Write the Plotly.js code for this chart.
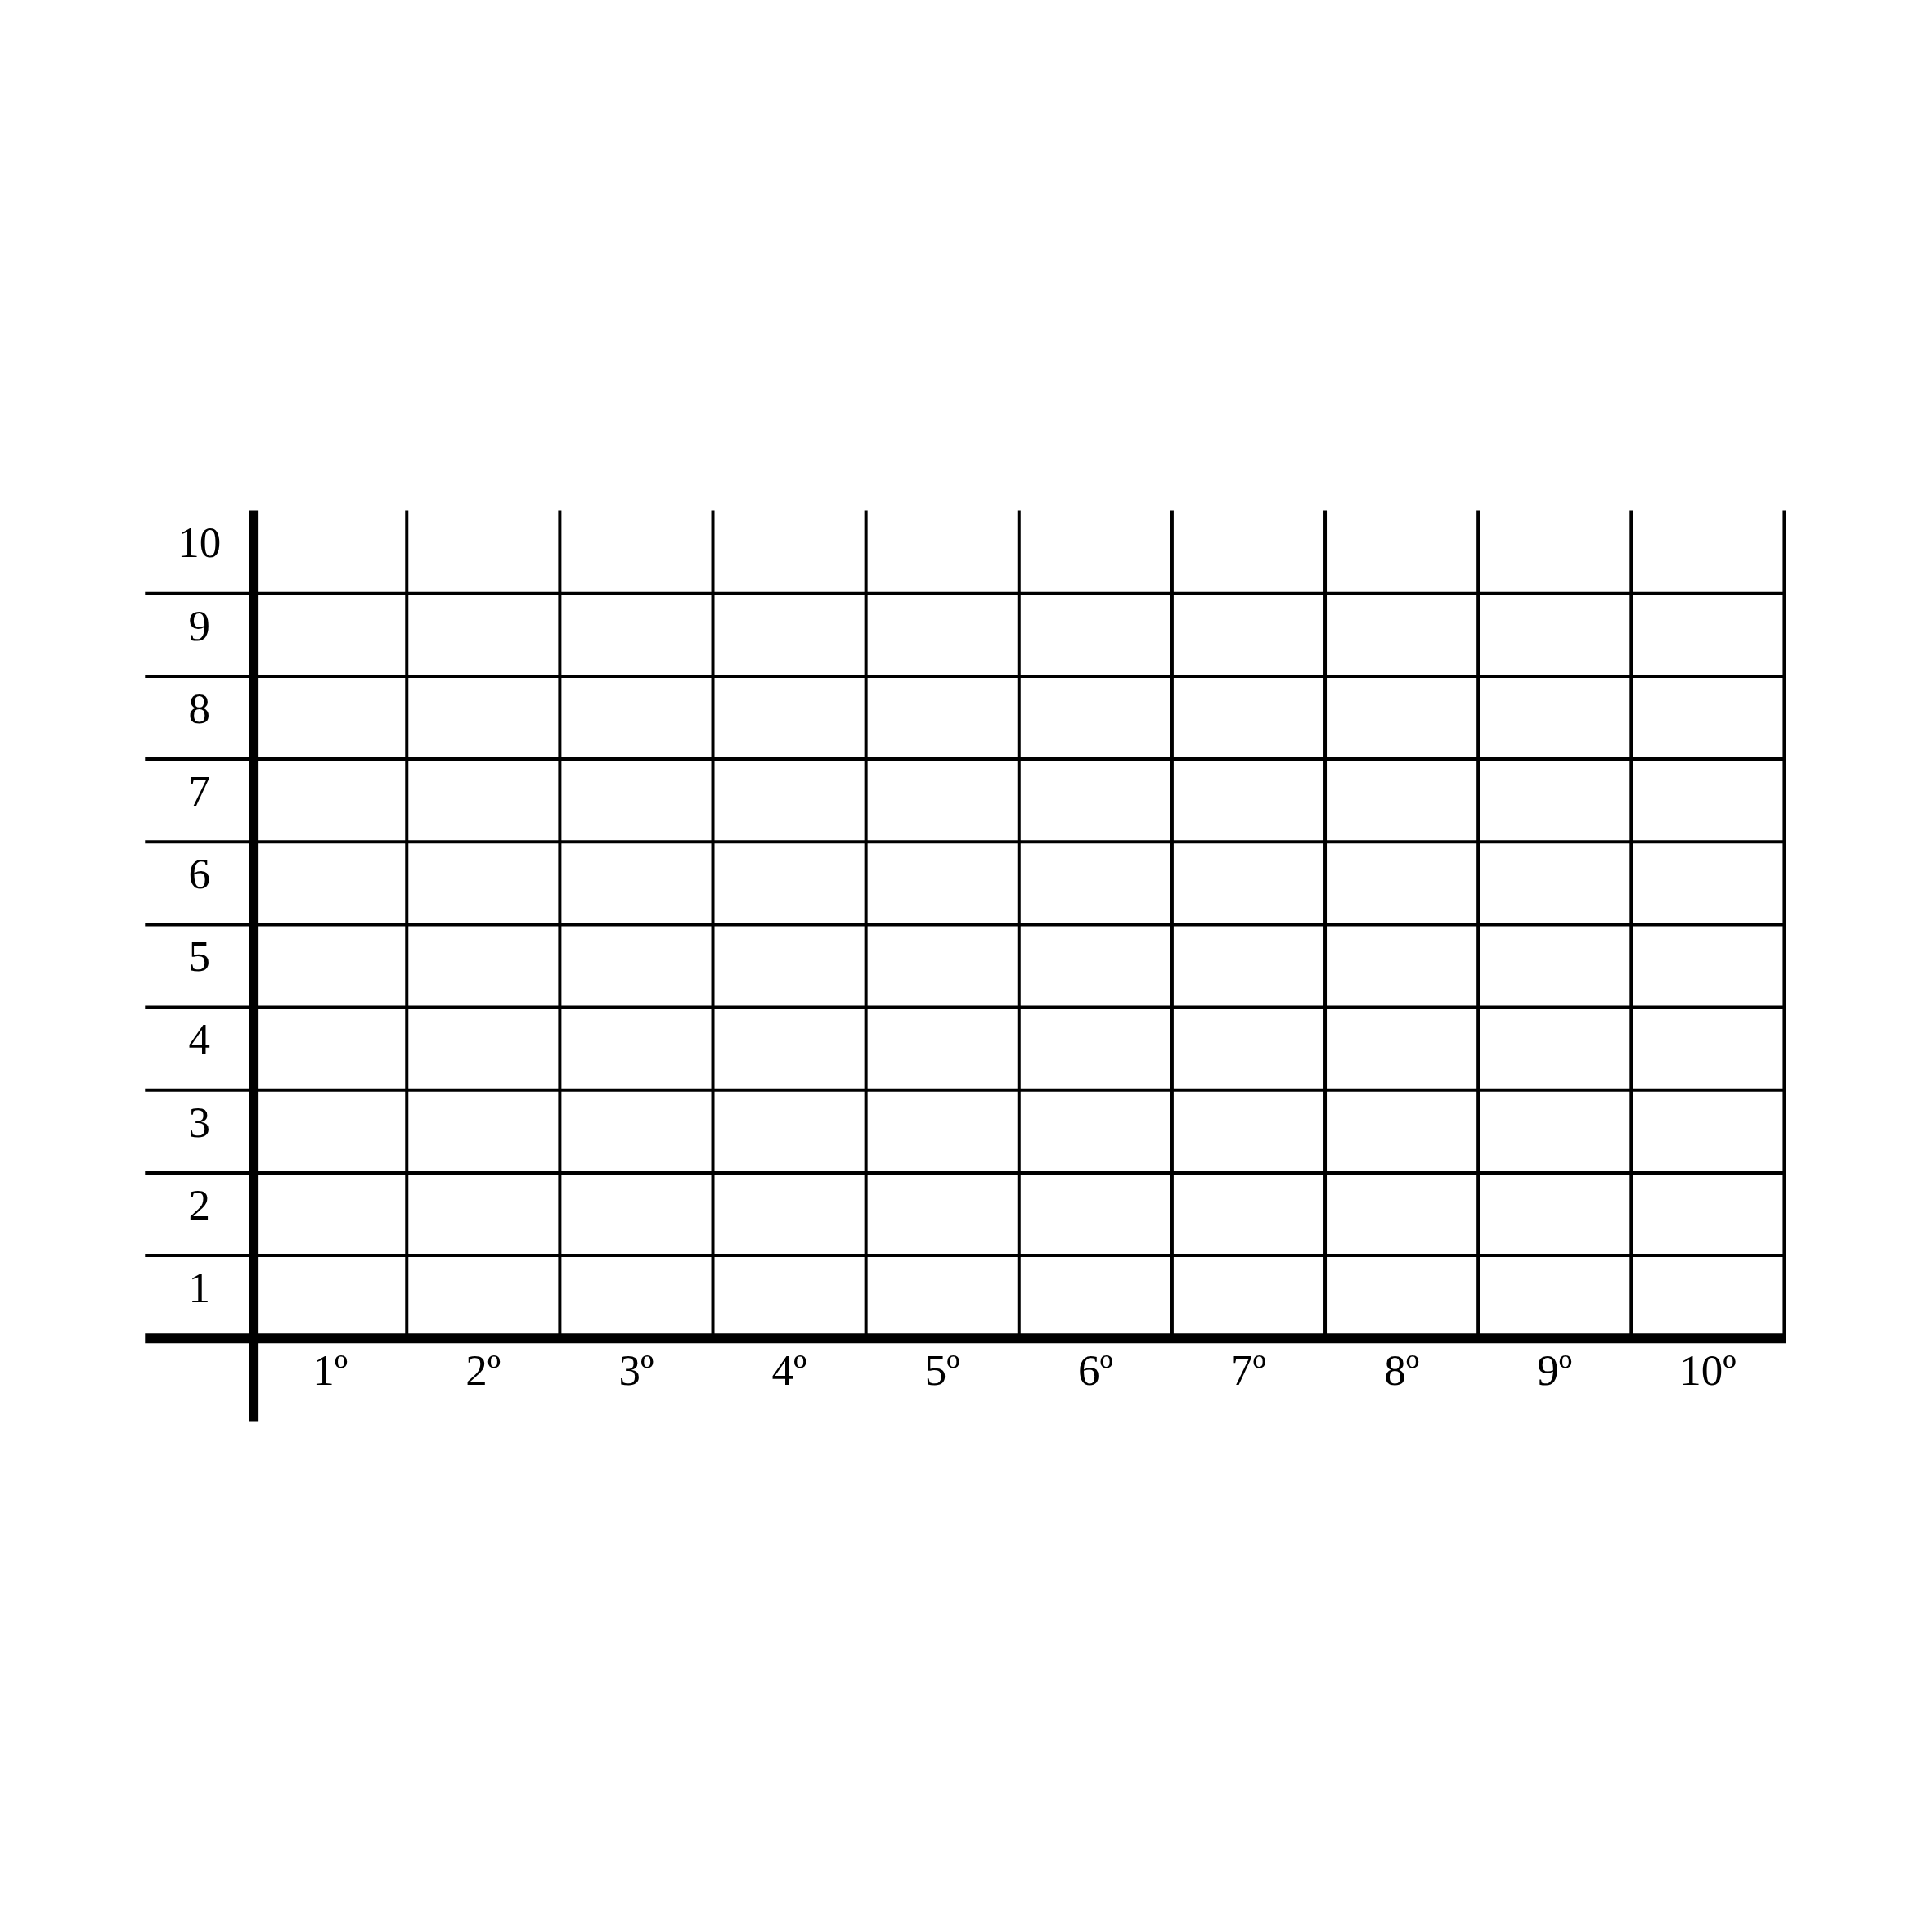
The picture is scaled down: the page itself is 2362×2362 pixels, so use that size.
<!DOCTYPE html>
<html>
<head>
<meta charset="utf-8">
<script src="https://cdn.plot.ly/plotly-3.0.1.min.js"></script>
<style>html,body{margin:0;padding:0;background:#fff;}#chart{width:2362px;height:2362px;}</style>
</head>
<body>
<div id="chart"></div>
<script>
// Categories (columns) and rows
const colLabels = ['1º','2º','3º','4º','5º','6º','7º','8º','9º','10º'];
const rowLabels = ['1','2','3','4','5','6','7','8','9','10'];
const colCenters = [0.5,1.5,2.5,3.5,4.5,5.5,6.5,7.5,8.5,9.5];
const rowCenters = [0.5,1.5,2.5,3.5,4.5,5.5,6.5,7.5,8.5,9.5];
const hLines = [1,2,3,4,5,6,7,8,9];
const vLines = [1,2,3,4,5,6,7,8,9,10];
const xLeftExt = -0.71;
const xRight = 10;
const yTop = 10;
const yBottomExt = -1;

const traces = [];
// horizontal grid lines
hLines.forEach(function(y){
  traces.push({x:[xLeftExt, xRight], y:[y, y], mode:'lines', line:{color:'#000', width:4}, hoverinfo:'skip', showlegend:false});
});
// vertical grid lines
vLines.forEach(function(x){
  traces.push({x:[x, x], y:[0, yTop], mode:'lines', line:{color:'#000', width:4}, hoverinfo:'skip', showlegend:false});
});
// thick axes
traces.push({x:[xLeftExt, xRight+0.01], y:[0,0], mode:'lines', line:{color:'#000', width:12}, hoverinfo:'skip', showlegend:false});
traces.push({x:[0,0], y:[yBottomExt, yTop], mode:'lines', line:{color:'#000', width:12}, hoverinfo:'skip', showlegend:false});
// row labels
traces.push({x:rowCenters.map(function(){return -0.355;}), y:rowCenters.map(function(v){return v+0.07;}), text:rowLabels, mode:'text', textposition:'middle center', textfont:{family:'Liberation Serif, serif', size:53, color:'#000'}, cliponaxis:false, hoverinfo:'skip', showlegend:false});
// column labels
traces.push({x:colCenters, y:colCenters.map(function(){return -0.43;}), text:colLabels, mode:'text', textposition:'middle center', textfont:{family:'Liberation Serif, serif', size:53, color:'#000'}, cliponaxis:false, hoverinfo:'skip', showlegend:false});

const layout = {
  width:2362, height:2362,
  paper_bgcolor:'#fff', plot_bgcolor:'#fff',
  margin:{l:123.4, r:87, t:574.45, b:574.35, pad:0},
  xaxis:{range:[-1,10.5], visible:false, fixedrange:true},
  yaxis:{range:[-1.5,10.5], visible:false, fixedrange:true},
  showlegend:false
};
Plotly.newPlot('chart', traces, layout, {staticPlot:true});
</script>
</body>
</html>
